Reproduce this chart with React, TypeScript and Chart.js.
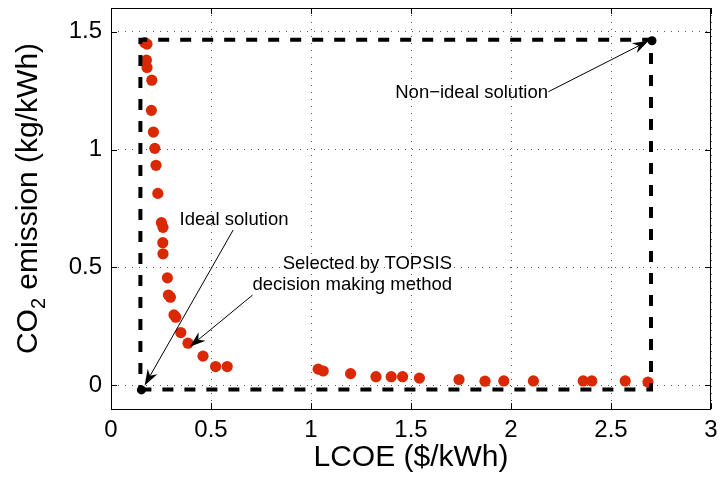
import React, { useEffect, useRef } from "react";
import { Chart, registerables } from "chart.js";
Chart.register(...registerables);

// Pareto front: LCOE ($/kWh) vs CO2 emission (kg/kWh)
const lcoe = [0.169, 0.180, 0.177, 0.180, 0.204, 0.202, 0.212, 0.219, 0.225, 0.234, 0.252, 0.260, 0.259, 0.260, 0.282, 0.287, 0.297, 0.315, 0.324, 0.349, 0.385, 0.460, 0.523, 0.581, 1.036, 1.061, 1.198, 1.325, 1.401, 1.458, 1.542, 1.740, 1.870, 1.964, 2.112, 2.361, 2.404, 2.571, 2.685];
const co2 = [1.453, 1.447, 1.379, 1.348, 1.294, 1.166, 1.074, 1.005, 0.933, 0.814, 0.690, 0.670, 0.605, 0.558, 0.456, 0.383, 0.374, 0.299, 0.289, 0.224, 0.179, 0.124, 0.080, 0.080, 0.069, 0.061, 0.050, 0.037, 0.037, 0.037, 0.031, 0.025, 0.018, 0.019, 0.019, 0.019, 0.019, 0.019, 0.014];

const idealX = [0.152];
const idealY = [-0.019];
const nonIdealX = [2.705];
const nonIdealY = [1.461];

const boxX = [0.147, 2.70, 2.70, 0.147, 0.147];
const boxY = [-0.017, -0.017, 1.465, 1.465, -0.017];

const xTicks = [0, 0.5, 1, 1.5, 2, 2.5, 3];
const yTicks = [0, 0.5, 1, 1.5];
const xRange = [0, 3];
const yRange = [-0.1, 1.6];

const xTitle = "LCOE ($/kWh)";
const yTitleParts = ["CO", "2", " emission (kg/kWh)"];

// annotations in data coordinates
const labelTexts = ["Ideal solution", "Selected by TOPSIS", "decision making method", "Non\u2212ideal solution"];
const labelX = [0.615, 1.705, 1.705, 1.803];
const labelY = [0.701, 0.515, 0.426, 1.241];
const labelAlign = ["center", "right", "right", "center"];
const arrowFromX = [0.611, 0.708, 2.187];
const arrowFromY = [0.659, 0.383, 1.245];
const arrowToX = [0.168, 0.394, 2.688];
const arrowToY = [0.0, 0.164, 1.461];

const FONT = "'Liberation Sans', Arial, Helvetica, sans-serif";

function drawArrow(ctx: CanvasRenderingContext2D, x1: number, y1: number, x2: number, y2: number) {
  const ang = Math.atan2(y2 - y1, x2 - x1);
  const ux = Math.cos(ang), uy = Math.sin(ang);
  const px = -uy, py = ux;
  const L = 16, W = 5.5, B = 11;
  ctx.beginPath();
  ctx.moveTo(x1, y1);
  ctx.lineTo(x2 - ux * B, y2 - uy * B);
  ctx.stroke();
  ctx.beginPath();
  ctx.moveTo(x2, y2);
  ctx.lineTo(x2 - ux * L + px * W, y2 - uy * L + py * W);
  ctx.lineTo(x2 - ux * B, y2 - uy * B);
  ctx.lineTo(x2 - ux * L - px * W, y2 - uy * L - py * W);
  ctx.closePath();
  ctx.fill();
}

const framePlugin = {
  id: "frameAndNotes",
  afterDraw(chart: any) {
    const { ctx, chartArea: a, scales } = chart;
    const xs = scales.x, ys = scales.y;
    ctx.save();
    // frame
    ctx.strokeStyle = "#000";
    ctx.lineWidth = 1;
    ctx.setLineDash([]);
    ctx.strokeRect(Math.round(a.left) + 0.5, Math.round(a.top) + 0.5, Math.round(a.right - a.left) - 1, Math.round(a.bottom - a.top));
    // inward ticks
    const tl = 6;
    ctx.beginPath();
    xTicks.forEach((v) => {
      const p = Math.round(xs.getPixelForValue(v)) + 0.5;
      ctx.moveTo(p, a.bottom); ctx.lineTo(p, a.bottom - tl);
      ctx.moveTo(p, a.top); ctx.lineTo(p, a.top + tl);
    });
    yTicks.forEach((v) => {
      const p = Math.round(ys.getPixelForValue(v)) + 0.5;
      ctx.moveTo(a.left, p); ctx.lineTo(a.left + tl, p);
      ctx.moveTo(a.right, p); ctx.lineTo(a.right - tl, p);
    });
    ctx.stroke();

    // y title with subscript
    const big = "30px " + FONT, small = "20px " + FONT;
    ctx.font = big;
    const w0 = ctx.measureText(yTitleParts[0]).width;
    const w2 = ctx.measureText(yTitleParts[2]).width;
    ctx.font = small;
    const w1 = ctx.measureText(yTitleParts[1]).width;
    const total = w0 + w1 + w2;
    const cy = (a.top + a.bottom) / 2 - 10;
    ctx.translate(37, cy + total / 2);
    ctx.rotate(-Math.PI / 2);
    ctx.fillStyle = "#000";
    ctx.textBaseline = "alphabetic";
    ctx.textAlign = "left";
    ctx.font = big;
    ctx.fillText(yTitleParts[0], 0, 0);
    ctx.font = small;
    ctx.fillText(yTitleParts[1], w0, 8);
    ctx.font = big;
    ctx.fillText(yTitleParts[2], w0 + w1, 0);
    ctx.setTransform(1, 0, 0, 1, 0, 0);
    ctx.restore();

    // annotations
    ctx.save();
    ctx.fillStyle = "#000";
    ctx.strokeStyle = "#000";
    ctx.lineWidth = 1;
    ctx.font = "18.5px " + FONT;
    ctx.textBaseline = "middle";
    labelTexts.forEach((t, i) => {
      ctx.textAlign = labelAlign[i] as CanvasTextAlign;
      ctx.fillText(t, xs.getPixelForValue(labelX[i]), ys.getPixelForValue(labelY[i]));
    });
    arrowFromX.forEach((_, i) => {
      drawArrow(
        ctx,
        xs.getPixelForValue(arrowFromX[i]), ys.getPixelForValue(arrowFromY[i]),
        xs.getPixelForValue(arrowToX[i]), ys.getPixelForValue(arrowToY[i])
      );
    });
    ctx.restore();
  },
};

export default function App() {
  const ref = useRef<HTMLCanvasElement>(null);
  useEffect(() => {
    if (!ref.current) return;
    const zip = (xa: number[], ya: number[]) => xa.map((x, i) => ({ x, y: ya[i] }));
    const chart = new Chart(ref.current, {
      type: "scatter",
      data: {
        datasets: [
          {
            data: [...zip(idealX, idealY), ...zip(nonIdealX, nonIdealY)],
            backgroundColor: "#000",
            borderColor: "#000",
            pointRadius: 4.5,
            borderWidth: 0,
          },
          {
            data: zip(boxX, boxY),
            showLine: true,
            borderColor: "#000",
            borderWidth: 4,
            borderDash: [11, 11],
            pointRadius: 0,
            fill: false,
          },
          {
            data: zip(lcoe, co2),
            backgroundColor: "rgb(218,40,0)",
            borderColor: "rgb(218,40,0)",
            pointRadius: 5.6,
            borderWidth: 0,
          },
        ],
      } as any,
      options: {
        animation: false,
        responsive: false,
        layout: { padding: { left: 0, right: 11, top: 8, bottom: 0 } },
        plugins: { legend: { display: false }, tooltip: { enabled: false } },
        scales: {
          x: {
            type: "linear",
            min: xRange[0],
            max: xRange[1],
            afterBuildTicks: (s: any) => { s.ticks = xTicks.map((v) => ({ value: v })); },
            afterFit: (s: any) => { s.height = 74; s.paddingLeft = 0; s.paddingRight = 0; },
            ticks: {
              padding: 7,
              color: "#000",
              font: { size: 24, family: FONT },
              callback: (v: any) => String(v),
              maxRotation: 0,
              autoSkip: false,
            },
            grid: { color: "rgba(0,0,0,0.65)", lineWidth: 1, drawTicks: false },
            border: { display: false, dash: [1, 6] },
            title: { display: true, text: xTitle, color: "#000", font: { size: 30, family: FONT }, padding: { top: 0, bottom: 7 } },
          },
          y: {
            type: "linear",
            min: yRange[0],
            max: yRange[1],
            afterBuildTicks: (s: any) => { s.ticks = yTicks.map((v) => ({ value: v })); },
            afterFit: (s: any) => { s.width = 111; s.paddingTop = 0; s.paddingBottom = 0; },
            ticks: {
              padding: 9,
              color: "#000",
              font: { size: 24, family: FONT },
              callback: (v: any) => String(v),
              autoSkip: false,
            },
            grid: { color: "rgba(0,0,0,0.65)", lineWidth: 1, drawTicks: false },
            border: { display: false, dash: [1, 6] },
          },
        },
      } as any,
      plugins: [framePlugin],
    });
    return () => chart.destroy();
  }, []);
  return (
    <div style={{ position: "fixed", left: 0, top: 0, width: 722, height: 483, background: "#fff" }}>
      <canvas ref={ref} width={722} height={483} style={{ display: "block" }} />
    </div>
  );
}
